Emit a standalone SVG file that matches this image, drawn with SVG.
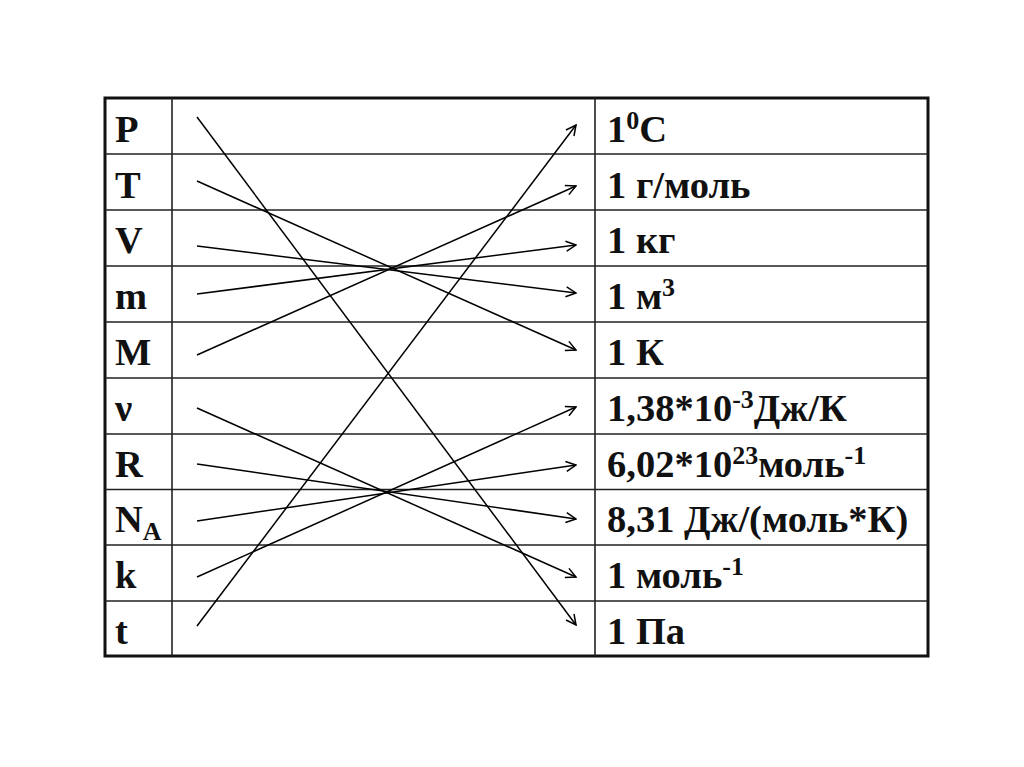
<svg xmlns="http://www.w3.org/2000/svg" width="1024" height="767" viewBox="0 0 1024 767">
<defs>
<style>
.t{font-family:"Liberation Serif","Times New Roman",serif;font-weight:bold;font-size:38.5px;fill:#111}
.grid{stroke:#222;stroke-width:1.6;fill:none}
.c{stroke:#000;stroke-width:1.5;fill:none;marker-end:url(#ah)}
</style>
<marker id="ah" viewBox="0 0 12 12" refX="11" refY="6" markerWidth="12" markerHeight="12" markerUnits="userSpaceOnUse" orient="auto">
<path d="M1,1 L11,6 L1,11" fill="none" stroke="#000" stroke-width="1.5"/>
</marker>
</defs>
<rect width="1024" height="767" fill="#fff"/>
<g id="table">
<rect x="105" y="98" width="823" height="558" fill="none" stroke="#111" stroke-width="3"/>
<path class="grid" d="M172,98V656 M595,98V656 M105,154H928 M105,210H928 M105,266H928 M105,322H928 M105,378H928 M105,434H928 M105,489.5H928 M105,545H928 M105,601H928"/>
</g>
<g id="left">
<text class="t" x="115" y="142">P</text>
<text class="t" x="115" y="198">T</text>
<text class="t" x="115" y="253">V</text>
<text class="t" x="115" y="309">m</text>
<text class="t" x="115" y="365">M</text>
<text class="t" x="115" y="421">ν</text>
<text class="t" x="115" y="477">R</text>
<text class="t" x="115" y="532">N<tspan font-size="26" dy="8">A</tspan></text>
<text class="t" x="115" y="588">k</text>
<text class="t" x="115" y="644">t</text>
</g>
<g id="right">
<text class="t" x="607" y="142">1<tspan font-size="26" dy="-13">0</tspan><tspan dy="13">C</tspan></text>
<text class="t" x="607" y="198">1 г/моль</text>
<text class="t" x="607" y="253">1 кг</text>
<text class="t" x="607" y="309">1 м<tspan font-size="26" dy="-13">3</tspan></text>
<text class="t" x="607" y="365">1 К</text>
<text class="t" x="607" y="421">1,38*10<tspan font-size="26" dy="-13">-3</tspan><tspan dy="13">Дж/К</tspan></text>
<text class="t" x="607" y="477">6,02*10<tspan font-size="26" dy="-13">23</tspan><tspan dy="13">моль</tspan><tspan font-size="26" dy="-13">-1</tspan></text>
<text class="t" x="607" y="532">8,31 Дж/(моль*К)</text>
<text class="t" x="607" y="588">1 моль<tspan font-size="26" dy="-13">-1</tspan></text>
<text class="t" x="607" y="644">1 Па</text>
</g>
<g id="connectors">
<line class="c" x1="197" y1="117" x2="576" y2="625"/>
<line class="c" x1="197" y1="181" x2="576" y2="350"/>
<line class="c" x1="197" y1="246" x2="576" y2="293"/>
<line class="c" x1="197" y1="294" x2="576" y2="245"/>
<line class="c" x1="197" y1="355" x2="576" y2="186"/>
<line class="c" x1="197" y1="408" x2="576" y2="577"/>
<line class="c" x1="197" y1="464" x2="576" y2="519"/>
<line class="c" x1="197" y1="521" x2="576" y2="465"/>
<line class="c" x1="197" y1="577" x2="576" y2="407"/>
<line class="c" x1="197" y1="626" x2="576" y2="125"/>
</g>
</svg>
